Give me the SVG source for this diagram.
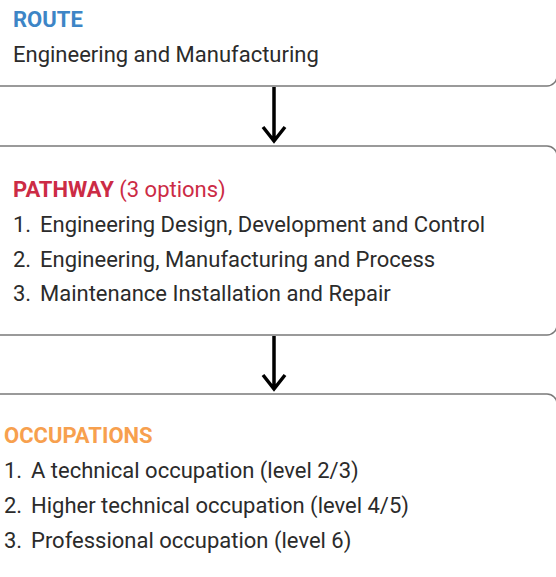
<svg xmlns="http://www.w3.org/2000/svg" width="556" height="577" viewBox="0 0 556 577">
<defs>
<style>
.box{fill:#fff;stroke:#7a7a7a;stroke-width:1.5}
.t{font-family:Roboto,"Liberation Sans",sans-serif;font-size:22px;fill:#2b2b2b}
.h{font-weight:700}
.route{fill:#3d85c6}
.path{fill:#cc2b45}
.occ{fill:#f7a04e}
.conn{fill:none;stroke:#000;stroke-width:3.5}
</style>
</defs>
<rect width="556" height="577" fill="#fff"/>
<g id="route">
<rect class="box" x="-20" y="-50" width="577" height="136" rx="10"/>
<text class="t h route" x="13" y="27">ROUTE</text>
<text class="t" x="13" y="62">Engineering and Manufacturing</text>
</g>
<g id="pathway">
<rect class="box" x="-20" y="146" width="577" height="189" rx="10"/>
<text class="t path" x="13" y="197"><tspan class="h">PATHWAY</tspan> (3 options)</text>
<text class="t" x="13" y="232">1.</text><text class="t" x="40" y="232">Engineering Design, Development and Control</text>
<text class="t" x="13" y="267">2.</text><text class="t" x="40" y="267">Engineering, Manufacturing and Process</text>
<text class="t" x="13" y="301">3.</text><text class="t" x="40" y="301">Maintenance Installation and Repair</text>
</g>
<g id="occupations">
<rect class="box" x="-20" y="394" width="577" height="230" rx="10"/>
<text class="t h occ" x="4" y="443">OCCUPATIONS</text>
<text class="t" x="4" y="478">1.</text><text class="t" x="31" y="478">A technical occupation (level 2/3)</text>
<text class="t" x="4" y="513">2.</text><text class="t" x="31" y="513">Higher technical occupation (level 4/5)</text>
<text class="t" x="4" y="548">3.</text><text class="t" x="31" y="548">Professional occupation (level 6)</text>
</g>
<g id="connectors">
<path class="conn" d="M274 87V141M263 127L274 141L285 127"/>
<path class="conn" d="M274 336V389M263 375L274 389L285 375"/>
</g>
</svg>
